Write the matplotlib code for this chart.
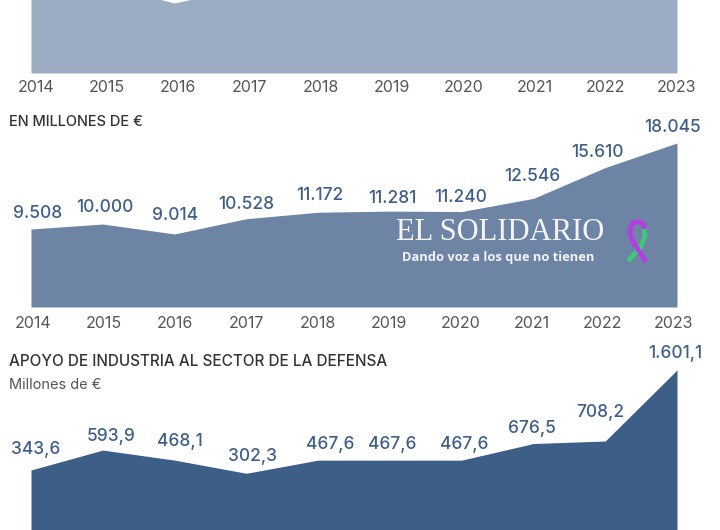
import matplotlib
matplotlib.use("Agg")
import matplotlib.pyplot as plt
from matplotlib.lines import Line2D

plt.rcParams['font.family'] = ['Inter', 'DejaVu Sans']

years = [2014, 2015, 2016, 2017, 2018, 2019, 2020, 2021, 2022, 2023]

# top chart is cut off by the picture, only the dip of 2016 shows
arriba = [90, 88, 70, 86, 92, 95, 94, 100, 110, 125]

millones = [9508, 10000, 9014, 10528, 11172, 11281, 11240, 12546, 15610, 18045]
millones_txt = ["9.508", "10.000", "9.014", "10.528", "11.172", "11.281", "11.240", "12.546", "15.610", "18.045"]

industria = [343.6, 593.9, 468.1, 302.3, 467.6, 467.6, 467.6, 676.5, 708.2, 1601.1]
industria_txt = ["343,6", "593,9", "468,1", "302,3", "467,6", "467,6", "467,6", "676,5", "708,2", "1.601,1"]

# label offsets in pixels from the point
off_mill = [(7, 15), (2, 17), (0, 18), (0, 14), (2, 17), (2, 13), (-1, 14), (-1, 22), (-8, 15), (-4, 16)]
off_ind = [(5, 20), (8, 14), (5, 19), (6, 17), (12, 16), (2, 16), (3, 16), (-2, 15), (-5, 29), (-2, 16)]

W, H = 720, 530
AZUL = "#3f5f88"
GRIS = "#555555"
OSCURO = "#333333"

fig = plt.figure(figsize=(W / 100, H / 100), dpi=100, facecolor="white")


def panel(top, bottom, ymin, ymax, vals, color):
    ax = fig.add_axes([31 / W, 1 - bottom / H, 646 / W, (bottom - top) / H])
    ax.fill_between(years, vals, ymin, color=color, lw=0)
    ax.set_xlim(2014, 2023)
    ax.set_ylim(ymin, ymax)
    ax.axis("off")
    return ax


def ftext(x, y, s, **kw):
    kw.setdefault("va", "center")
    fig.text(x / W, 1 - y / H, s, **kw)


def rotulos(ax, vals, textos, offs):
    for yr, v, t, o in zip(years, vals, textos, offs):
        ax.annotate(t, (yr, v), xytext=o, textcoords="offset pixels", ha="center", va="center",
                    fontsize=12.5, color=AZUL, fontweight="medium", annotation_clip=False)


panel(0, 73, 0, 73, arriba, "#9cadc3")

ax2 = panel(143, 307, 1762, 18045, millones, "#6d84a5")
rotulos(ax2, millones, millones_txt, off_mill)

ax3 = panel(370, 530, -411, 1601.1, industria, "#3d5e87")
rotulos(ax3, industria, industria_txt, off_ind)

# year rows
for i, yr in enumerate(years):
    ftext(36 + i * 71.2, 87, str(yr), ha="center", fontsize=11.5, color=GRIS)
    ftext(33 + i * 71.2, 323, str(yr), ha="center", fontsize=11.5, color=GRIS)

ftext(9, 122, "EN MILLONES DE €", fontsize=10.5, color=OSCURO, fontweight="medium")
ftext(9, 362, "APOYO DE INDUSTRIA AL SECTOR DE LA DEFENSA", fontsize=11, color=OSCURO, fontweight="medium")
ftext(9, 385, "Millones de €", fontsize=10.5, color=GRIS)

# watermark
ftext(396, 233, "EL SOLIDARIO", fontsize=22, color="#f4f5f8", family="Liberation Serif")
ftext(402, 257, "Dando voz a los que no tienen", fontsize=9.3, color="#f2f3f6", family="Open Sans", fontweight="bold")


# ribbon
def cinta(xs, ys, color, lw):
    fig.add_artist(Line2D([x / W for x in xs], [1 - y / H for y in ys], color=color, lw=lw,
                          solid_capstyle="butt", solid_joinstyle="round"))


cinta([644, 645, 640, 628], [228, 236, 248, 261], "#3fc77a", 3.5)
cinta([631, 630, 632, 646], [225, 232, 240, 262], "#b43fe0", 3.5)
cinta([631, 634, 640, 644, 644], [225, 222, 222, 225, 229], "#b43fe0", 3.5)

fig.savefig("out.png", dpi=100)
